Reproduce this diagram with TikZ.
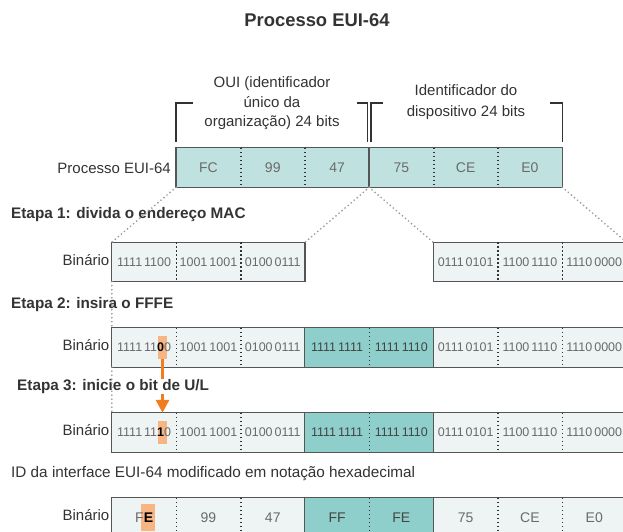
\documentclass[tikz,border=0pt]{standalone}
\usepackage{fontspec}
\setmainfont{Liberation Sans}
\usetikzlibrary{arrows.meta}
\pgfdeclarelayer{background}
\pgfsetlayers{background,main}

\definecolor{macteal}{HTML}{BFE2E1}
\definecolor{binlight}{HTML}{EEF4F3}
\definecolor{fffeteal}{HTML}{8FCFCB}
\definecolor{framegray}{HTML}{555555}
\definecolor{dotgray}{HTML}{9A9A9A}
\definecolor{textdark}{HTML}{333333}
\definecolor{celltext}{HTML}{6A6A6A}
\definecolor{tealtext}{HTML}{444444}
\definecolor{ulorange}{HTML}{F8B584}
\definecolor{arroworange}{HTML}{F07D1E}

\newcommand{\bitsp}{\hspace{2pt}}

\begin{document}
\begin{tikzpicture}[x=1pt, y=-1pt,
    cell/.style ={rectangle, minimum width=64.3pt, minimum height=39pt, inner sep=0pt, text=celltext},
    maccell/.style ={cell, font=\fontsize{14}{16}\selectfont},
    bincell/.style ={cell, font=\fontsize{12.5}{14}\selectfont},
    fffecell/.style ={bincell, text=tealtext},
    hexcell/.style ={cell, font=\fontsize{14}{16}\selectfont},
    hexteal/.style ={hexcell, text=tealtext},
    frame/.style ={draw=framegray, line width=1.3pt},
    split/.style ={draw=textdark, line width=1.6pt, dash pattern=on 1.6pt off 2.4pt},
    zoomline/.style ={draw=dotgray, line width=1.9pt, line cap=round, dash pattern=on 0pt off 4pt},
    bracket/.style ={draw=textdark, line width=1.5pt},
    etapa/.style ={anchor=base west, inner sep=0pt, text=textdark, font=\bfseries\fontsize{15.3}{18}\selectfont},
    rowlabel/.style ={anchor=base east, inner sep=0pt, text=textdark, font=\fontsize{15}{18}\selectfont},
    ulmark/.style ={rectangle, fill=ulorange, minimum width=9pt, minimum height=23pt, inner sep=0pt},
    ularrow/.style ={draw=arroworange, line width=3pt}]
   \useasboundingbox (0,0) rectangle (623,532);
   \clip (0,0) rectangle (623,532);

   \node[anchor=base, text=textdark, font=\bfseries\fontsize{18.4}{22}\selectfont] (title) at (317,27) {Processo EUI-64};

   % MAC address row
   \node[maccell] (mac1) at (208.45,167.5) {FC};
   \node[maccell] (mac2) at (272.75,167.5) {99};
   \node[maccell] (mac3) at (337.05,167.5) {47};
   \node[maccell] (mac4) at (401.35,167.5) {75};
   \node[maccell] (mac5) at (465.65,167.5) {CE};
   \node[maccell] (mac6) at (529.95,167.5) {E0};
   \node[rowlabel] (maclabel) at (171,173) {Processo EUI-64};

   \node[align=center, text=textdark, font=\fontsize{15}{19.5}\selectfont] (oui) at (272,103.5) {OUI (identificador\\único da\\organização) 24 bits};
   \node[align=center, text=textdark, font=\fontsize{15}{20.5}\selectfont] (devid) at (466,102) {Identificador do\\dispositivo 24 bits};

   % step 1
   \node[etapa] (step1) at (11,218) {Etapa 1: divida o endereço MAC};
   \node[bincell] (s1c1) at (144.15,262) {1111\bitsp1100};
   \node[bincell] (s1c2) at (208.45,262) {1001\bitsp1001};
   \node[bincell] (s1c3) at (272.75,262) {0100\bitsp0111};
   \node[bincell] (s1c6) at (465.65,262) {0111\bitsp0101};
   \node[bincell] (s1c7) at (529.95,262) {1100\bitsp1110};
   \node[bincell] (s1c8) at (594.25,262) {1110\bitsp0000};
   \node[rowlabel] (lab1) at (109.5,265) {Binário};

   % step 2
   \node[etapa] (step2) at (11,308) {Etapa 2: insira o FFFE};
   \node[bincell] (s2c1) at (144.15,347.5) {1111\bitsp11{\color{black}\bfseries 0}0};
   \node[bincell] (s2c2) at (208.45,347.5) {1001\bitsp1001};
   \node[bincell] (s2c3) at (272.75,347.5) {0100\bitsp0111};
   \node[fffecell] (s2c4) at (337.05,347.5) {1111\bitsp1111};
   \node[fffecell] (s2c5) at (401.35,347.5) {1111\bitsp1110};
   \node[bincell] (s2c6) at (465.65,347.5) {0111\bitsp0101};
   \node[bincell] (s2c7) at (529.95,347.5) {1100\bitsp1110};
   \node[bincell] (s2c8) at (594.25,347.5) {1110\bitsp0000};
   \node[rowlabel] (lab2) at (109.5,350.5) {Binário};

   % step 3
   \node[etapa] (step3) at (17,390.5) {Etapa 3: inicie o bit de U/L};
   \node[bincell] (s3c1) at (144.15,432.5) {1111\bitsp11{\color{black}\bfseries 1}0};
   \node[bincell] (s3c2) at (208.45,432.5) {1001\bitsp1001};
   \node[bincell] (s3c3) at (272.75,432.5) {0100\bitsp0111};
   \node[fffecell] (s3c4) at (337.05,432.5) {1111\bitsp1111};
   \node[fffecell] (s3c5) at (401.35,432.5) {1111\bitsp1110};
   \node[bincell] (s3c6) at (465.65,432.5) {0111\bitsp0101};
   \node[bincell] (s3c7) at (529.95,432.5) {1100\bitsp1110};
   \node[bincell] (s3c8) at (594.25,432.5) {1110\bitsp0000};
   \node[rowlabel] (lab3) at (109.5,435.5) {Binário};

   % modified EUI-64 in hex
   \node[etapa, font=\fontsize{15.3}{18}\selectfont] (hexnote) at (11,477) {ID da interface EUI-64 modificado em notação hexadecimal};
   \node[hexcell] (id1) at (144.15,517.5) {F{\color{black}\bfseries E}};
   \node[hexcell] (id2) at (208.45,517.5) {99};
   \node[hexcell] (id3) at (272.75,517.5) {47};
   \node[hexteal] (id4) at (337.05,517.5) {FF};
   \node[hexteal] (id5) at (401.35,517.5) {FE};
   \node[hexcell] (id6) at (465.65,517.5) {75};
   \node[hexcell] (id7) at (529.95,517.5) {CE};
   \node[hexcell] (id8) at (594.25,517.5) {E0};
   \node[rowlabel] (lab4) at (109.5,520.5) {Binário};

   % frames, filled behind the texts, and the U/L marks
   \begin{pgfonlayer}{background}
   \draw[frame, fill=macteal] (mac1.north west) rectangle (mac3.south east);
   \draw[frame, fill=macteal] (mac4.north west) rectangle (mac6.south east);
   \draw[frame, fill=binlight] (s1c1.north west) rectangle (s1c3.south east);
   \draw[frame, fill=binlight] (s1c6.north west) rectangle (s1c8.south east);
   \draw[frame, fill=binlight] (s2c1.north west) rectangle (s2c3.south east);
   \draw[frame, fill=fffeteal] (s2c4.north west) rectangle (s2c5.south east);
   \draw[frame, fill=binlight] (s2c6.north west) rectangle (s2c8.south east);
   \draw[frame, fill=binlight] (s3c1.north west) rectangle (s3c3.south east);
   \draw[frame, fill=fffeteal] (s3c4.north west) rectangle (s3c5.south east);
   \draw[frame, fill=binlight] (s3c6.north west) rectangle (s3c8.south east);
   \draw[frame, fill=binlight] (id1.north west) rectangle (id3.south east);
   \draw[frame, fill=fffeteal] (id4.north west) rectangle (id5.south east);
   \draw[frame, fill=binlight] (id6.north west) rectangle (id8.south east);
   \node[ulmark] (ul2) at (162.5,347.5) {};
   \node[ulmark] (ul3) at (162.5,432.5) {};
   \node[ulmark, minimum width=14pt, minimum height=27pt] (ul4) at (148.4,517.5) {};
   \end{pgfonlayer}

   % dotted dividers
   \draw[split] (mac1.north east) -- (mac1.south east);
   \draw[split] (mac2.north east) -- (mac2.south east);
   \draw[split] (mac4.north east) -- (mac4.south east);
   \draw[split] (mac5.north east) -- (mac5.south east);
   \draw[split] (s1c1.north east) -- (s1c1.south east);
   \draw[split] (s1c2.north east) -- (s1c2.south east);
   \draw[split] (s1c6.north east) -- (s1c6.south east);
   \draw[split] (s1c7.north east) -- (s1c7.south east);
   \draw[split] (s2c1.north east) -- (s2c1.south east);
   \draw[split] (s2c2.north east) -- (s2c2.south east);
   \draw[split] (s2c4.north east) -- (s2c4.south east);
   \draw[split] (s2c6.north east) -- (s2c6.south east);
   \draw[split] (s2c7.north east) -- (s2c7.south east);
   \draw[split] (s3c1.north east) -- (s3c1.south east);
   \draw[split] (s3c2.north east) -- (s3c2.south east);
   \draw[split] (s3c4.north east) -- (s3c4.south east);
   \draw[split] (s3c6.north east) -- (s3c6.south east);
   \draw[split] (s3c7.north east) -- (s3c7.south east);
   \draw[split] (id1.north east) -- (id1.south east);
   \draw[split] (id2.north east) -- (id2.south east);
   \draw[split] (id4.north east) -- (id4.south east);
   \draw[split] (id6.north east) -- (id6.south east);
   \draw[split] (id7.north east) -- (id7.south east);

   % brackets over the MAC row
   \draw[bracket] ([yshift=6pt]mac1.north west) -- ++(0,-39) -- ++(17,0);
   \draw[bracket] ([xshift=-2pt, yshift=6pt]mac3.north east) -- ++(0,-39) -- ++(-10,0);
   \draw[bracket] ([xshift=2pt, yshift=6pt]mac4.north west) -- ++(0,-39) -- ++(12,0);
   \draw[bracket] ([yshift=6pt]mac6.north east) -- ++(0,-39) -- ++(-12,0);

   % dotted guide lines
   \draw[zoomline] (mac1.south west) -- (s1c1.north west);
   \draw[zoomline] (mac3.south east) -- (s1c3.north east);
   \draw[zoomline] (mac4.south west) -- (s1c6.north west);
   \draw[zoomline] (mac6.south east) -- (s1c8.north east);
   \draw[zoomline] (s1c1.south west) -- (s2c1.north west);
   \draw[zoomline] (s2c1.south west) -- (s3c1.north west);
   \draw[zoomline] (s1c8.south east) -- (s2c8.north east);
   \draw[zoomline] (s2c8.south east) -- (s3c8.north east);

   % U/L bit arrow
   \coordinate (ulstop) at (ul2.south |- step3.north);
   \coordinate (ulgo) at (ul2.south |- step3.south);
   \draw[ularrow] (ul2.south) -- (ulstop);
   \draw[ularrow, -{Triangle[length=13pt, width=13pt]}] (ulgo) -- (ul3.north |- s3c1.north);
 \end{tikzpicture}
\end{document}
